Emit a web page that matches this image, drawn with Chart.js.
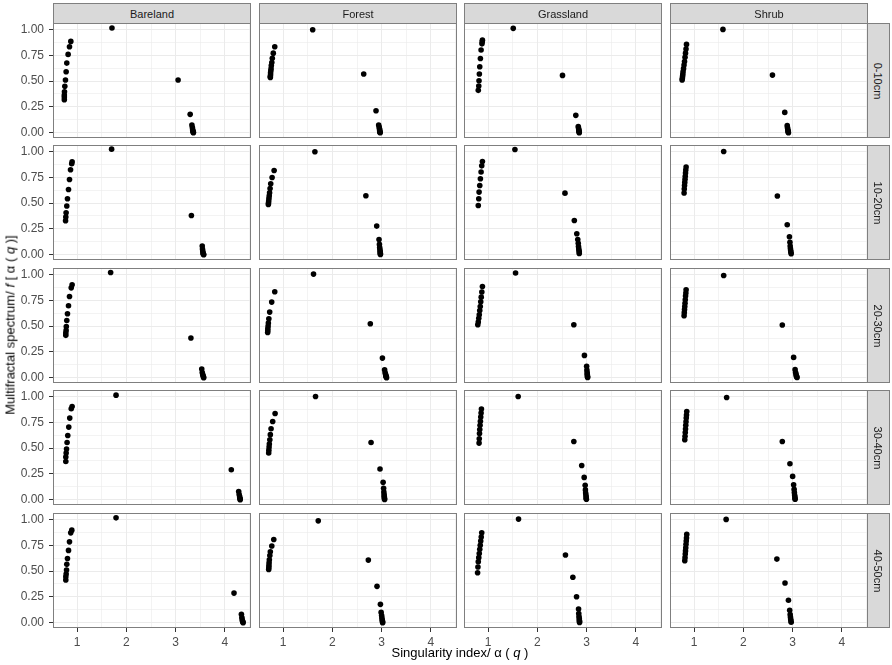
<!DOCTYPE html>
<html>
<head>
<meta charset="utf-8">
<script src="https://cdn.jsdelivr.net/npm/chart.js@4.4.1/dist/chart.umd.min.js"></script>
<style>
  body { margin: 0; background: #fff; font-family: "Liberation Sans", Arial, sans-serif; }
  #wrap { position: relative; width: 892px; height: 665px; overflow: hidden; }
  #wrap canvas { position: absolute; }
  .strip { position: absolute; box-sizing: border-box; background: #d9d9d9; border: 1px solid #7f7f7f;
           color: #1a1a1a; font-size: 11px; display: flex; align-items: center; justify-content: center; }
  .strip.side span { transform: rotate(90deg); white-space: nowrap; display: block; }
  .title { position: absolute; font-size: 13px; color: #000; white-space: nowrap; }
</style>
</head>
<body>
<div id="wrap"></div>
<script>
// facets
const landUses = ['Bareland', 'Forest', 'Grassland', 'Shrub'];
const depths = ['0-10cm', '10-20cm', '20-30cm', '30-40cm', '40-50cm'];

// axes
const xTicks = [1, 2, 3, 4];
const xMinor = [1.5, 2.5, 3.5, 4.5];
const yTicks = [0, 0.25, 0.5, 0.75, 1];
const yMinor = [0.125, 0.375, 0.625, 0.875];
const xRange = [0.51, 4.53];
const yRange = [-0.051, 1.062];

// singularity index alpha(q) and spectrum f(alpha)
const bareland0_10_alpha = [0.872, 0.845, 0.817, 0.79, 0.777, 0.763, 0.75, 0.743, 0.74, 0.74, 0.74, 1.707, 3.05, 3.295, 3.33, 3.34, 3.345, 3.35, 3.355, 3.36, 3.36];
const bareland0_10_f     = [0.884, 0.832, 0.758, 0.674, 0.59, 0.51, 0.449, 0.397, 0.365, 0.345, 0.32, 1.013, 0.51, 0.178, 0.075, 0.05, 0.03, 0.018, 0.01, 0.005, 0.0];
const forest0_10_alpha   = [0.83, 0.80, 0.78, 0.77, 0.76, 0.755, 0.75, 0.745, 0.745, 0.74, 0.74, 1.60, 2.636, 2.886, 2.94, 2.95, 2.955, 2.96, 2.96, 2.965, 2.965, 2.97];
const forest0_10_f       = [0.832, 0.77, 0.72, 0.68, 0.65, 0.62, 0.60, 0.58, 0.56, 0.545, 0.535, 0.996, 0.568, 0.213, 0.075, 0.055, 0.04, 0.028, 0.018, 0.01, 0.004, 0.0];
const grassland0_10_alpha = [0.884, 0.88, 0.875, 0.857, 0.843, 0.83, 0.822, 0.815, 0.81, 0.80, 1.51, 2.51, 2.78, 2.83, 2.835, 2.84, 2.845, 2.845, 2.85, 2.85];
const grassland0_10_f     = [0.896, 0.88, 0.86, 0.80, 0.719, 0.638, 0.568, 0.503, 0.452, 0.41, 1.01, 0.555, 0.168, 0.06, 0.045, 0.03, 0.02, 0.012, 0.006, 0.0];
const shrub0_10_alpha    = [0.845, 0.835, 0.825, 0.815, 0.805, 0.795, 0.785, 0.775, 0.77, 0.765, 0.76, 0.756, 1.585, 2.59, 2.84, 2.89, 2.895, 2.90, 2.905, 2.91, 2.91, 2.915];
const shrub0_10_f        = [0.855, 0.81, 0.77, 0.73, 0.69, 0.655, 0.62, 0.59, 0.565, 0.545, 0.525, 0.51, 1.0, 0.558, 0.197, 0.07, 0.05, 0.035, 0.022, 0.013, 0.006, 0.0];

const bareland10_20_alpha = [0.898, 0.89, 0.866, 0.845, 0.825, 0.804, 0.79, 0.776, 0.77, 0.765, 1.70, 3.32, 3.54, 3.545, 3.55, 3.555, 3.56, 3.565, 3.57];
const bareland10_20_f     = [0.90, 0.88, 0.822, 0.728, 0.632, 0.542, 0.471, 0.406, 0.364, 0.329, 1.022, 0.38, 0.084, 0.055, 0.035, 0.02, 0.01, 0.004, 0.0];
const forest10_20_alpha   = [0.817, 0.776, 0.748, 0.735, 0.725, 0.718, 0.712, 0.707, 0.703, 0.70, 1.645, 2.68, 2.90, 2.947, 2.955, 2.96, 2.965, 2.97, 2.97, 2.975, 2.975];
const forest10_20_f       = [0.815, 0.748, 0.687, 0.64, 0.60, 0.57, 0.545, 0.52, 0.50, 0.487, 0.996, 0.571, 0.277, 0.148, 0.10, 0.07, 0.05, 0.033, 0.02, 0.01, 0.003];
const grassland10_20_alpha = [0.884, 0.87, 0.857, 0.843, 0.83, 0.816, 0.81, 0.80, 1.544, 2.56, 2.75, 2.80, 2.82, 2.83, 2.835, 2.84, 2.845, 2.85, 2.85];
const grassland10_20_f     = [0.902, 0.86, 0.80, 0.735, 0.67, 0.606, 0.542, 0.477, 1.018, 0.596, 0.332, 0.203, 0.148, 0.11, 0.08, 0.058, 0.04, 0.026, 0.012];
const shrub10_20_alpha    = [0.837, 0.83, 0.825, 0.82, 0.815, 0.81, 0.805, 0.80, 0.796, 1.60, 2.69, 2.89, 2.935, 2.945, 2.95, 2.955, 2.96, 2.965, 2.97];
const shrub10_20_f        = [0.848, 0.82, 0.79, 0.76, 0.73, 0.70, 0.67, 0.635, 0.597, 0.999, 0.568, 0.29, 0.174, 0.12, 0.085, 0.06, 0.04, 0.025, 0.01];

const bareland20_30_alpha = [0.898, 0.88, 0.845, 0.825, 0.804, 0.79, 0.78, 0.776, 0.77, 0.77, 1.68, 3.31, 3.53, 3.54, 3.55, 3.56, 3.565, 3.57];
const bareland20_30_f     = [0.899, 0.87, 0.786, 0.696, 0.619, 0.554, 0.496, 0.458, 0.432, 0.41, 1.018, 0.384, 0.084, 0.05, 0.03, 0.016, 0.007, 0.0];
const forest20_30_alpha   = [0.83, 0.768, 0.727, 0.71, 0.70, 0.695, 0.69, 0.688, 0.686, 1.617, 2.77, 3.016, 3.06, 3.07, 3.08, 3.085, 3.09, 3.095, 3.10];
const forest20_30_f       = [0.832, 0.732, 0.635, 0.57, 0.53, 0.50, 0.475, 0.455, 0.438, 1.003, 0.522, 0.19, 0.077, 0.05, 0.033, 0.02, 0.012, 0.006, 0.0];
const grassland20_30_alpha = [0.884, 0.872, 0.86, 0.85, 0.84, 0.83, 0.82, 0.81, 0.80, 0.79, 1.557, 2.74, 2.955, 3.0, 3.005, 3.01, 3.012, 3.015, 3.018, 3.02];
const grassland20_30_f     = [0.883, 0.83, 0.78, 0.735, 0.69, 0.65, 0.61, 0.575, 0.54, 0.513, 1.013, 0.513, 0.216, 0.11, 0.075, 0.05, 0.033, 0.02, 0.01, 0.003];
const shrub20_30_alpha    = [0.837, 0.832, 0.826, 0.82, 0.815, 0.81, 0.805, 0.80, 0.796, 1.60, 2.79, 3.02, 3.05, 3.06, 3.07, 3.075, 3.08, 3.09];
const shrub20_30_f        = [0.851, 0.82, 0.79, 0.755, 0.72, 0.69, 0.66, 0.63, 0.60, 0.99, 0.51, 0.197, 0.078, 0.05, 0.032, 0.018, 0.01, 0.003];

const bareland30_40_alpha = [0.898, 0.88, 0.85, 0.83, 0.81, 0.796, 0.785, 0.777, 0.77, 0.77, 1.79, 4.13, 4.28, 4.29, 4.30, 4.305, 4.31, 4.31];
const bareland30_40_f     = [0.902, 0.88, 0.79, 0.703, 0.622, 0.554, 0.49, 0.452, 0.413, 0.37, 1.012, 0.29, 0.08, 0.05, 0.03, 0.015, 0.006, 0.0];
const forest30_40_alpha   = [0.837, 0.788, 0.755, 0.74, 0.73, 0.72, 0.715, 0.71, 0.707, 1.658, 2.785, 2.967, 3.03, 3.04, 3.045, 3.05, 3.052, 3.055, 3.058, 3.06];
const forest30_40_f       = [0.834, 0.757, 0.687, 0.63, 0.58, 0.54, 0.51, 0.48, 0.452, 0.999, 0.554, 0.297, 0.168, 0.11, 0.075, 0.05, 0.033, 0.02, 0.01, 0.003];
const grassland30_40_alpha = [0.864, 0.857, 0.85, 0.843, 0.836, 0.83, 0.825, 0.82, 0.816, 1.61, 2.74, 2.90, 2.95, 2.97, 2.975, 2.98, 2.985, 2.99, 2.99, 2.995];
const grassland30_40_f     = [0.877, 0.84, 0.80, 0.76, 0.72, 0.68, 0.64, 0.59, 0.548, 0.999, 0.564, 0.332, 0.216, 0.14, 0.095, 0.065, 0.045, 0.028, 0.015, 0.005];
const shrub30_40_alpha    = [0.85, 0.845, 0.84, 0.835, 0.83, 0.825, 0.82, 0.815, 0.81, 1.66, 2.79, 2.945, 3.0, 3.02, 3.03, 3.035, 3.04, 3.045, 3.048, 3.05];
const shrub30_40_f        = [0.854, 0.82, 0.79, 0.755, 0.72, 0.685, 0.65, 0.615, 0.58, 0.99, 0.564, 0.348, 0.226, 0.145, 0.10, 0.07, 0.046, 0.028, 0.015, 0.005];

const bareland40_50_alpha = [0.892, 0.87, 0.845, 0.825, 0.804, 0.79, 0.785, 0.777, 0.77, 0.77, 1.79, 4.185, 4.335, 4.345, 4.35, 4.36, 4.365, 4.37];
const bareland40_50_f     = [0.896, 0.87, 0.783, 0.70, 0.622, 0.565, 0.51, 0.471, 0.445, 0.413, 1.015, 0.287, 0.081, 0.05, 0.03, 0.015, 0.006, 0.0];
const forest40_50_alpha   = [0.81, 0.77, 0.74, 0.73, 0.72, 0.715, 0.712, 0.71, 0.707, 1.713, 2.73, 2.906, 2.975, 2.99, 3.0, 3.005, 3.01, 3.015, 3.02, 3.02];
const forest40_50_f       = [0.806, 0.742, 0.687, 0.65, 0.61, 0.58, 0.555, 0.535, 0.516, 0.986, 0.606, 0.352, 0.178, 0.10, 0.07, 0.047, 0.03, 0.016, 0.006, 0.0];
const grassland40_50_alpha = [0.87, 0.86, 0.85, 0.84, 0.83, 0.82, 0.81, 0.80, 0.793, 0.786, 1.617, 2.57, 2.72, 2.795, 2.836, 2.84, 2.845, 2.85, 2.852, 2.855, 2.856];
const grassland40_50_f     = [0.87, 0.83, 0.79, 0.75, 0.71, 0.67, 0.63, 0.59, 0.54, 0.484, 1.003, 0.655, 0.44, 0.252, 0.133, 0.09, 0.06, 0.04, 0.025, 0.012, 0.003];
const shrub40_50_alpha    = [0.85, 0.845, 0.84, 0.835, 0.83, 0.825, 0.82, 0.815, 0.81, 1.65, 2.68, 2.845, 2.915, 2.94, 2.95, 2.955, 2.96, 2.965, 2.97];
const shrub40_50_f        = [0.855, 0.82, 0.79, 0.76, 0.725, 0.695, 0.665, 0.63, 0.60, 1.0, 0.616, 0.384, 0.217, 0.12, 0.08, 0.055, 0.035, 0.02, 0.004];

// rows = depths, cols = land uses
const panels = [
  [[bareland0_10_alpha, bareland0_10_f], [forest0_10_alpha, forest0_10_f], [grassland0_10_alpha, grassland0_10_f], [shrub0_10_alpha, shrub0_10_f]],
  [[bareland10_20_alpha, bareland10_20_f], [forest10_20_alpha, forest10_20_f], [grassland10_20_alpha, grassland10_20_f], [shrub10_20_alpha, shrub10_20_f]],
  [[bareland20_30_alpha, bareland20_30_f], [forest20_30_alpha, forest20_30_f], [grassland20_30_alpha, grassland20_30_f], [shrub20_30_alpha, shrub20_30_f]],
  [[bareland30_40_alpha, bareland30_40_f], [forest30_40_alpha, forest30_40_f], [grassland30_40_alpha, grassland30_40_f], [shrub30_40_alpha, shrub30_40_f]],
  [[bareland40_50_alpha, bareland40_50_f], [forest40_50_alpha, forest40_50_f], [grassland40_50_alpha, grassland40_50_f], [shrub40_50_alpha, shrub40_50_f]],
];

// layout (pixels)
const colLeft = [53, 259, 464, 670];
const rowTop = [23, 145, 268, 390, 513];
const panelW = 198, panelH = 115;
const leftAxisW = 53, bottomAxisH = 22;
const gridColor = '#ebebeb', borderColor = '#7f7f7f', tickTextColor = '#4d4d4d';

const wrap = document.getElementById('wrap');

// panel.border like ggplot theme_bw
const framePlugin = {
  id: 'frame',
  afterDraw(chart) {
    const a = chart.chartArea, ctx = chart.ctx;
    ctx.save();
    ctx.strokeStyle = borderColor;
    ctx.lineWidth = 1;
    ctx.strokeRect(a.left + 0.5, a.top + 0.5, a.right - a.left - 1, a.bottom - a.top - 1);
    ctx.restore();
  }
};

const isMajor = (list, v) => list.some(t => Math.abs(t - v) < 1e-9);

function makePanel(r, c) {
  const showY = c === 0, showX = r === depths.length - 1;
  const cv = document.createElement('canvas');
  const w = panelW + (showY ? leftAxisW : 0);
  const h = panelH + (showX ? bottomAxisH : 0);
  cv.width = w; cv.height = h;
  cv.style.left = (colLeft[c] - (showY ? leftAxisW : 0)) + 'px';
  cv.style.top = rowTop[r] + 'px';
  wrap.appendChild(cv);

  const [alpha, f] = panels[r][c];
  const pts = alpha.map((a, i) => ({ x: a, y: f[i] }));

  new Chart(cv, {
    type: 'scatter',
    data: { datasets: [{ data: pts, backgroundColor: '#000', borderWidth: 0, pointRadius: 2.8 }] },
    options: {
      responsive: false, animation: false, devicePixelRatio: 1,
      layout: { padding: 0, autoPadding: false },
      plugins: { legend: { display: false }, tooltip: { enabled: false } },
      scales: {
        x: {
          type: 'linear', min: xRange[0], max: xRange[1],
          afterBuildTicks: s => { s.ticks = [...xTicks, ...xMinor].sort((a, b) => a - b).map(v => ({ value: v })); },
          afterFit: s => { s.height = showX ? bottomAxisH : 0; s.paddingLeft = 0; s.paddingRight = 0; },
          border: { display: false },
          grid: {
            color: gridColor,
            lineWidth: ctx => (ctx.tick && isMajor(xTicks, ctx.tick.value)) ? 1 : 0.6,
            drawTicks: showX, tickLength: 4, tickWidth: 1,
            tickColor: ctx => (ctx.tick && isMajor(xTicks, ctx.tick.value)) ? '#333' : 'rgba(0,0,0,0)'
          },
          ticks: {
            display: showX, padding: 3, color: tickTextColor, maxRotation: 0, autoSkip: false,
            font: { family: '"Liberation Sans", Arial, sans-serif', size: 12 },
            callback: v => isMajor(xTicks, v) ? String(v) : ''
          }
        },
        y: {
          type: 'linear', min: yRange[0], max: yRange[1],
          afterBuildTicks: s => { s.ticks = [...yTicks, ...yMinor].sort((a, b) => a - b).map(v => ({ value: v })); },
          afterFit: s => { s.width = showY ? leftAxisW : 0; s.paddingTop = 0; s.paddingBottom = 0; },
          border: { display: false },
          grid: {
            color: gridColor,
            lineWidth: ctx => (ctx.tick && isMajor(yTicks, ctx.tick.value)) ? 1 : 0.6,
            drawTicks: showY, tickLength: 4, tickWidth: 1,
            tickColor: ctx => (ctx.tick && isMajor(yTicks, ctx.tick.value)) ? '#333' : 'rgba(0,0,0,0)'
          },
          ticks: {
            display: showY, padding: 5, color: tickTextColor, autoSkip: false,
            font: { family: '"Liberation Sans", Arial, sans-serif', size: 12 },
            callback: v => isMajor(yTicks, v) ? v.toFixed(2) : ''
          }
        }
      }
    },
    plugins: [framePlugin]
  });
}

for (let r = 0; r < depths.length; r++) {
  for (let c = 0; c < landUses.length; c++) makePanel(r, c);
}

// strips
landUses.forEach((name, c) => {
  const d = document.createElement('div');
  d.className = 'strip';
  d.style.left = colLeft[c] + 'px'; d.style.top = '3px';
  d.style.width = panelW + 'px'; d.style.height = (rowTop[0] - 3 + 1) + 'px';
  d.textContent = name;
  wrap.appendChild(d);
});
depths.forEach((name, r) => {
  const d = document.createElement('div');
  d.className = 'strip side';
  d.style.left = (colLeft[3] + panelW - 1) + 'px'; d.style.top = rowTop[r] + 'px';
  d.style.width = '23px'; d.style.height = panelH + 'px';
  const s = document.createElement('span');
  s.textContent = name;
  d.appendChild(s);
  wrap.appendChild(d);
});

// axis titles
const xt = document.createElement('div');
xt.className = 'title';
xt.innerHTML = 'Singularity index/ α ( <i>q</i> )';
xt.style.left = '460px'; xt.style.top = '652px';
xt.style.transform = 'translate(-50%, -50%)';
wrap.appendChild(xt);

const yt = document.createElement('div');
yt.className = 'title';
yt.innerHTML = 'Multifractal spectrum/ <i>f</i> [ α ( <i>q</i> )]';
yt.style.left = '10px'; yt.style.top = '325px';
yt.style.transform = 'translate(-50%, -50%) rotate(-90deg)';
wrap.appendChild(yt);
</script>
</body>
</html>
